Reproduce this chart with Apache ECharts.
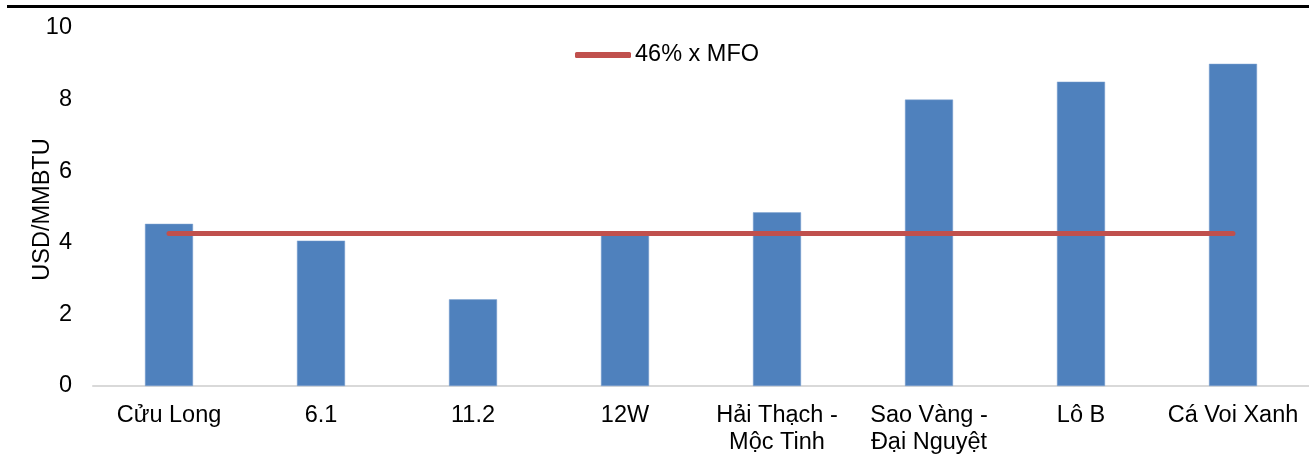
<!DOCTYPE html>
<html>
<head>
<meta charset="utf-8">
<script src="https://cdn.jsdelivr.net/npm/echarts@6/dist/echarts.min.js"></script>
<style>
  html, body { margin: 0; padding: 0; background: #fff; }
  #chart { width: 1309px; height: 456px; }
</style>
</head>
<body>
<div id="chart"></div>
<script>
// Gas field prices vs. 46% of MFO price (USD/MMBTU)
const categories = ['Cửu Long', '6.1', '11.2', '12W', 'Hải Thạch -\nMộc Tinh', 'Sao Vàng -\nĐại Nguyệt', 'Lô B', 'Cá Voi Xanh'];
const fieldPrices = [4.53, 4.06, 2.42, 4.3, 4.85, 8.0, 8.5, 9.0];
const mfoShare = [4.26, 4.26, 4.26, 4.26, 4.26, 4.26, 4.26, 4.26];
const mfoLabel = '46% x MFO';
const yTitle = 'USD/MMBTU';

const font = 'Arial, "Liberation Sans", sans-serif';
const fs = 23.5;
const chart = echarts.init(document.getElementById('chart'), null, { renderer: 'canvas' });

chart.setOption({
  animation: false,
  backgroundColor: '#ffffff',
  textStyle: { fontFamily: font },
  graphic: [{
    type: 'rect',
    shape: { x: 7, y: 5, width: 1302, height: 3 },
    style: { fill: '#000000' }
  }],
  grid: { left: 93, right: 0, top: 28, bottom: 69, containLabel: false },
  legend: {
    data: [{ name: mfoLabel, icon: 'roundRect' }],
    left: 575,
    top: 43,
    padding: 0,
    itemWidth: 56,
    itemHeight: 6,
    itemStyle: { color: '#c0504d' },
    textStyle: { fontFamily: font, fontSize: fs, color: '#000000', padding: [0, 0, 0, -1] }
  },
  xAxis: {
    type: 'category',
    data: categories,
    axisLine: { show: true, lineStyle: { color: '#d9d9d9', width: 2 } },
    axisTick: { show: false },
    axisLabel: {
      interval: 0,
      margin: 16,
      color: '#000000',
      fontFamily: font,
      fontSize: fs,
      lineHeight: 27
    }
  },
  yAxis: {
    type: 'value',
    min: 0,
    max: 10,
    interval: 2,
    name: yTitle,
    nameLocation: 'middle',
    nameGap: 38,
    nameRotate: 90,
    nameMoveOverlap: false,
    nameTextStyle: { fontFamily: font, fontSize: fs, color: '#000000', padding: [0, 5, 0, 0] },
    axisLine: { show: false },
    axisTick: { show: false },
    splitLine: { show: false },
    axisLabel: { margin: 21, color: '#000000', fontFamily: font, fontSize: fs }
  },
  series: [
    {
      name: 'Giá khí',
      type: 'bar',
      data: fieldPrices,
      barWidth: '31.6%',
      itemStyle: { color: '#4f81bd', borderColor: '#7ea3d1', borderWidth: 0.5 }
    },
    {
      name: mfoLabel,
      type: 'line',
      data: mfoShare,
      symbol: 'none',
      lineStyle: { color: '#c0504d', width: 5, cap: 'round' },
      itemStyle: { color: '#c0504d' },
      z: 3
    }
  ]
});
</script>
</body>
</html>
